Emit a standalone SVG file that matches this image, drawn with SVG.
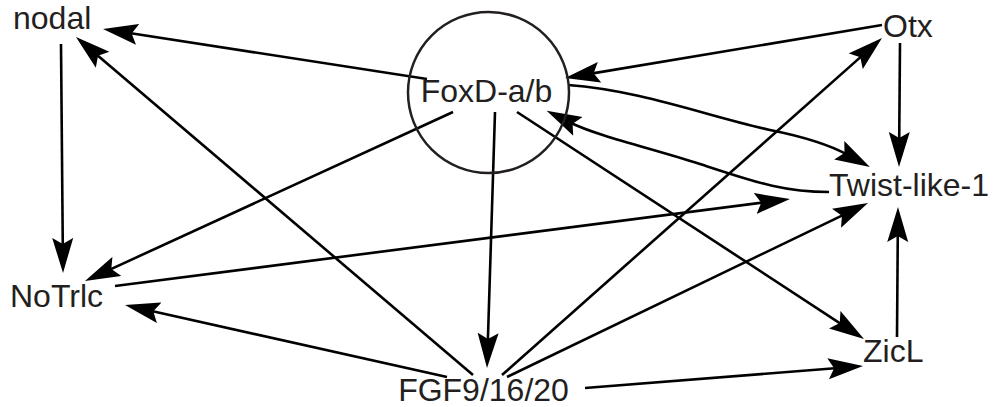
<svg xmlns="http://www.w3.org/2000/svg" width="997" height="407" viewBox="0 0 997 407">
  <style>
    .label { font-family: "Liberation Sans", Arial, sans-serif; font-size: 32px; fill: #231f20; }
    .edge { fill: none; stroke: #000; stroke-width: 2.6; marker-end: url(#head); }
    .ring { fill: none; stroke: #231f20; stroke-width: 2.5; }
  </style>
  <defs>
    <marker id="head" markerUnits="userSpaceOnUse" viewBox="0 -11 36 22" refX="10" refY="0" markerWidth="36" markerHeight="22" orient="auto">
      <path d="M35,0 L0,-10.5 L6,0 L0,10.5 Z" fill="#000"/>
    </marker>
  </defs>

  <rect width="997" height="407" fill="#fff"/>

  <g id="connectors">
    <path class="edge" d="M427,79 L127.7,32.8"/>
    <path class="edge" d="M473,375 L95,53.2"/>
    <path class="edge" d="M61,44 L62.8,248"/>
    <path class="edge" d="M453,112 L107.7,270.6"/>
    <path class="edge" d="M115,286 L765.2,202.2"/>
    <path class="edge" d="M447,377 L149.4,310.5"/>
    <path class="edge" d="M495,112 L487.8,343"/>
    <path class="edge" d="M502,375 L863.3,54.6"/>
    <path class="edge" d="M507,377 L845.5,213.9"/>
    <path class="edge" d="M585,388 L838.1,368"/>
    <path class="edge" d="M517,112 L843.1,325.3"/>
    <path class="edge" d="M897,337 L897.8,232"/>
    <path class="edge" d="M900,43 L899.2,142"/>
    <path class="edge" d="M882,25 L589.7,73.9"/>
    <path class="edge" d="M568,85 C640,90 710,117 770,130 C800,136 828,144 848,155"/>
    <path class="edge" d="M829,192 C780,192 750,180 700,164 C650,148 597,136 569,122"/>
  </g>

  <g id="node-foxd">
    <circle class="ring" cx="488.5" cy="92.5" r="80.5"/>
    <text class="label" x="486.5" y="102" text-anchor="middle">FoxD-a/b</text>
  </g>
  <g id="node-nodal">
    <text class="label" x="13" y="29">nodal</text>
  </g>
  <g id="node-otx">
    <text class="label" x="883" y="37">Otx</text>
  </g>
  <g id="node-twist">
    <text class="label" x="829" y="196">Twist-like-1</text>
  </g>
  <g id="node-notrlc">
    <text class="label" x="10" y="307">NoTrlc</text>
  </g>
  <g id="node-fgf">
    <text class="label" x="483.5" y="401" text-anchor="middle">FGF9/16/20</text>
  </g>
  <g id="node-zicl">
    <text class="label" x="863" y="362">ZicL</text>
  </g>
</svg>
